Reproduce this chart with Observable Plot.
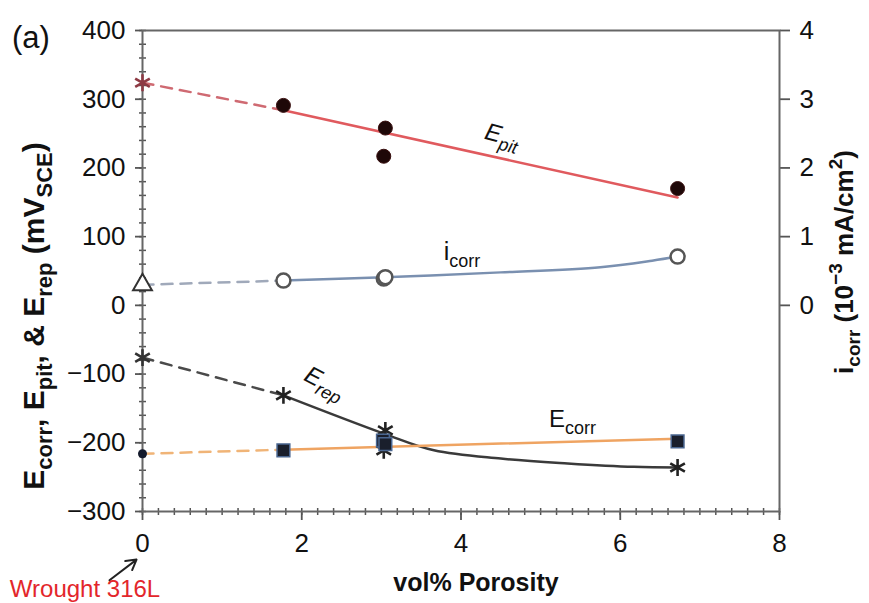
<!DOCTYPE html>
<html><head><meta charset="utf-8">
<script src="https://cdn.jsdelivr.net/npm/d3@7"></script>
<script src="https://cdn.jsdelivr.net/npm/@observablehq/plot@0.6"></script>
<style>body{margin:0;background:#fff} #chart svg{display:block}</style>
</head><body><div id="chart"></div>
<script>
// ---- data ----
// porosity (vol%) and measured values for PM 316L
const epitX = [1.77, 3.05, 3.03, 6.72];
const epitY = [291, 258, 217, 170];            // mV_SCE
const icorrX = [1.77, 3.03, 3.05, 6.72];
const icorrY = [0.36, 0.39, 0.41, 0.71];       // 10^-3 mA/cm2 (right axis)
const erepX = [1.77, 3.05, 3.03, 6.72];
const erepY = [-131, -182, -211, -236];        // mV_SCE
const ecorrX = [1.77, 3.02, 3.05, 6.72];
const ecorrY = [-211, -197, -202, -198];       // mV_SCE
// wrought 316L (0 vol% porosity)
const wroughtX = 0;
const wroughtEpit = 324, wroughtIcorr = 0.30, wroughtErep = -76, wroughtEcorr = -216;
// trend curves as drawn in the figure
const epitFitX = [1.77, 6.72], epitFitY = [284, 157];
const ecorrFitX = [1.77, 6.72], ecorrFitY = [-210, -194];
const icorrFitX = [1.77, 3.04, 3.62, 4.5, 5.75, 6.4, 6.72];
const icorrFitY = [0.36, 0.41, 0.435, 0.48, 0.555, 0.65, 0.71];
const erepFitX = [1.77, 3.04, 3.66, 4.5, 5.34, 6.17, 6.72];
const erepFitY = [-131, -187, -211, -223, -230, -235, -236];
// axes
const xTicks = [0, 2, 4, 6, 8];
const xMinor = d3.range(0, 80.5, 2).map(d => d / 10);
const yTicks = [-300, -200, -100, 0, 100, 200, 300, 400];
const yMinor = d3.range(-300, 401, 20);
const rightTicks = [0, 1, 2, 3, 4];
const rightScale = 100; // 1 unit of i_corr = 100 mV on the left axis

const rows = (xs, ys, k = 1) => xs.map((x, i) => ({x, y: ys[i] * k}));
const minus = d => d < 0 ? "\u2212" + Math.abs(d) : String(d);

const plot = Plot.plot({
  width: 869, height: 603,
  marginLeft: 142, marginRight: 90, marginTop: 30, marginBottom: 92,
  style: {fontFamily: "'Liberation Sans', Arial, sans-serif", fontSize: "26px", background: "#fff", color: "#111", overflow: "visible"},
  x: {domain: [0, 8], label: null},
  y: {domain: [-300, 400], label: null},
  marks: [
    // minor ticks
    Plot.axisX({ticks: xMinor, tickSize: 7, dy: -3, tickFormat: () => "", stroke: "#555", strokeWidth: 1.5}),
    Plot.axisY({ticks: yMinor, tickSize: 7, dx: 4, tickFormat: () => "", stroke: "#555", strokeWidth: 1.5}),
    // major ticks and labels
    Plot.axisX({ticks: xTicks, tickSize: 9, tickPadding: 13, tickFormat: d => d, stroke: "#555", fill: "#111", strokeWidth: 1.8, fontSize: 26}),
    Plot.axisY({ticks: yTicks, tickSize: 7, tickPadding: 10, tickFormat: minus, stroke: "#555", fill: "#111", strokeWidth: 1.8, fontSize: 26}),
    Plot.axisY({anchor: "right", ticks: rightTicks.map(d => d * rightScale), tickFormat: d => d / rightScale, tickSize: 10, tickPadding: 10, stroke: "#555", fill: "#111", strokeWidth: 1.8, fontSize: 26}),
    Plot.frame({stroke: "#666", strokeWidth: 2}),
    // dashed extrapolations to wrought
    Plot.line([{x: wroughtX, y: wroughtEpit}, {x: epitFitX[0], y: epitFitY[0]}], {x: "x", y: "y", stroke: "#cf6a72", strokeWidth: 2.5, strokeDasharray: "11,8"}),
    Plot.line([{x: wroughtX, y: wroughtIcorr * rightScale}, {x: icorrFitX[0], y: icorrFitY[0] * rightScale}], {x: "x", y: "y", stroke: "#a0a9ba", strokeWidth: 2.5, strokeDasharray: "11,8"}),
    Plot.line([{x: wroughtX, y: wroughtErep}, {x: erepFitX[0], y: erepFitY[0]}], {x: "x", y: "y", stroke: "#4a4a4a", strokeWidth: 2.5, strokeDasharray: "11,8"}),
    Plot.line([{x: wroughtX, y: wroughtEcorr}, {x: ecorrFitX[0], y: ecorrFitY[0]}], {x: "x", y: "y", stroke: "#f0b477", strokeWidth: 2.5, strokeDasharray: "11,8"}),
    // trend lines
    Plot.line(rows(epitFitX, epitFitY), {x: "x", y: "y", stroke: "#e05a5e", strokeWidth: 2.5}),
    Plot.line(rows(icorrFitX, icorrFitY, rightScale), {x: "x", y: "y", stroke: "#7a90b0", strokeWidth: 2.5, curve: "catmull-rom"}),
    Plot.line(rows(erepFitX, erepFitY), {x: "x", y: "y", stroke: "#3a3a3a", strokeWidth: 2.5, curve: "catmull-rom"}),
    Plot.line(rows(ecorrFitX, ecorrFitY), {x: "x", y: "y", stroke: "#efa462", strokeWidth: 2.5}),
    // data points
    Plot.dot(rows(epitX, epitY), {x: "x", y: "y", r: 7, fill: "#1e0808", stroke: "#3a1010", strokeWidth: 1}),
    Plot.dot(rows(icorrX, icorrY, rightScale), {x: "x", y: "y", r: 7, fill: "#fff", stroke: "#555", strokeWidth: 2.5}),
    Plot.dot(rows(erepX, erepY), {x: "x", y: "y", r: 8, symbol: "asterisk", stroke: "#222", strokeWidth: 2.6}),
    Plot.dot(rows(ecorrX, ecorrY), {x: "x", y: "y", r: 7.2, symbol: "square", fill: "#1a1f2c", stroke: "#4a6690", strokeWidth: 1.5}),
    // wrought 316L points
    Plot.dot([{x: wroughtX, y: wroughtEpit}], {x: "x", y: "y", r: 8, symbol: "asterisk", stroke: "#8e3a44", strokeWidth: 2.6}),
    Plot.dot([{x: wroughtX, y: wroughtIcorr * rightScale}], {x: "x", y: "y", r: 7, symbol: "triangle", fill: "#fff", stroke: "#333", strokeWidth: 2}),
    Plot.dot([{x: wroughtX, y: wroughtErep}], {x: "x", y: "y", r: 8, symbol: "asterisk", stroke: "#333", strokeWidth: 2.6}),
    Plot.dot([{x: wroughtX, y: wroughtEcorr}], {x: "x", y: "y", r: 4.5, fill: "#141a2c"}),
    // arrow pointing to wrought 316L
    Plot.arrow([{x1: -0.415, y1: -400, x2: -0.075, y2: -370}], {x1: "x1", y1: "y1", x2: "x2", y2: "y2", stroke: "#222", strokeWidth: 2, headLength: 10})
  ]
});
document.getElementById("chart").appendChild(plot);

// ---- rich text (subscripts / superscripts) ----
const svg = d3.select(plot);
const sx = plot.scale("x"), sy = plot.scale("y");
function rich(parts, {x, y, size, subSize, rotate = 0, anchor = "start", weight = "normal", fontStyle = "normal", fill = "#111"}) {
  const t = svg.append("text")
    .attr("transform", `translate(${x},${y}) rotate(${rotate})`)
    .attr("text-anchor", anchor).attr("font-size", size)
    .attr("font-weight", weight).attr("font-style", fontStyle).attr("fill", fill)
    .attr("font-family", "'Liberation Sans', Arial, sans-serif");
  let shift = 0;
  for (const [txt, kind] of parts) {
    const target = kind === "sub" ? size * 0.28 : kind === "sup" ? -size * 0.42 : 0;
    const ts = t.append("tspan").attr("dy", target - shift).text(txt);
    if (kind) ts.attr("font-size", subSize);
    shift = target;
  }
  return t;
}
// in-plot series labels (positioned in data coordinates)
rich([["E"], ["pit", "sub"]], {x: sx.apply(4.29), y: sy.apply(242), size: 24, subSize: 18, rotate: 15, fontStyle: "italic"});
rich([["i"], ["corr", "sub"]], {x: sx.apply(3.79), y: sy.apply(0.65 * rightScale), size: 25, subSize: 18});
rich([["E"], ["rep", "sub"]], {x: sx.apply(2.02), y: sy.apply(-109), size: 24, subSize: 18, rotate: 27, fontStyle: "italic"});
rich([["E"], ["corr", "sub"]], {x: sx.apply(5.11), y: sy.apply(-178), size: 24, subSize: 18});
// axis titles
rich([["E"], ["corr", "sub"], [", E"], ["pit", "sub"], [", & E"], ["rep", "sub"], [" (mV"], ["SCE", "sub"], [")"]],
  {x: 44, y: 316, size: 30, subSize: 22, rotate: -90, anchor: "middle", weight: "bold"});
rich([["i"], ["corr", "sub"], [" (10"], ["\u22123", "sup"], [" mA/cm"], ["2", "sup"], [")"]],
  {x: 853, y: 262, size: 26, subSize: 19, rotate: -90, anchor: "middle", weight: "bold"});
rich([["vol% Porosity"]], {x: 476, y: 591, size: 25, weight: "bold", anchor: "middle"});
rich([["(a)"]], {x: 12, y: 48, size: 31});
rich([["Wrought 316L"]], {x: 85, y: 597, size: 24, anchor: "middle", fill: "#e3262b"});
</script>
</body></html>
